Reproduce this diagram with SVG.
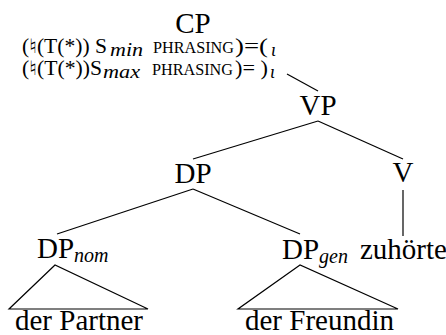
<svg xmlns="http://www.w3.org/2000/svg" width="446" height="335" viewBox="0 0 446 335" font-family="'Liberation Serif', 'Times New Roman', 'DejaVu Serif', serif">
<style>
text { font-family: 'Liberation Serif', 'Times New Roman', 'DejaVu Serif', serif; fill: #000; }
.n { font-size: 29px; text-anchor: middle; }
.nl { font-size: 29px; }
.sub { font-style: italic; font-size: 20px; }
.a { font-size: 20px; }
.ai { font-style: italic; font-size: 18px; }
.sc { font-size: 16px; }
.e { stroke: #000; stroke-width: 1.2; fill: none; }
</style>
<rect width="446" height="335" fill="#fff"/>
<g id="connectors">
<line class="e" x1="287" y1="74" x2="318" y2="91"/>
<line class="e" x1="318" y1="121" x2="193" y2="159"/>
<line class="e" x1="318" y1="121" x2="403" y2="159"/>
<line class="e" x1="193" y1="189" x2="57" y2="234"/>
<line class="e" x1="193" y1="189" x2="300" y2="234"/>
<line class="e" x1="403" y1="190" x2="403" y2="236"/>
<polygon class="e" points="55,265 9,309 148,309"/>
<polygon class="e" points="300,265 238,309 398,309"/>
</g>
<g id="CP">
<text class="n" x="193" y="33">CP</text>
<text class="a" y="53"><tspan x="22" textLength="85" lengthAdjust="spacingAndGlyphs">(♮(T(*)) S</tspan><tspan class="ai" x="110" dy="3" textLength="33" lengthAdjust="spacingAndGlyphs">min</tspan><tspan class="sc" x="153" dy="-3" textLength="81" lengthAdjust="spacingAndGlyphs">PHRASING</tspan><tspan x="235" textLength="33" lengthAdjust="spacingAndGlyphs">)=(</tspan><tspan class="ai" x="271" dy="3">ι</tspan></text>
<text class="a" y="75"><tspan x="22" textLength="80" lengthAdjust="spacingAndGlyphs">(♮(T(*))S</tspan><tspan class="ai" x="103" dy="3" textLength="37" lengthAdjust="spacingAndGlyphs">max</tspan><tspan class="sc" x="152" dy="-3" textLength="81" lengthAdjust="spacingAndGlyphs">PHRASING</tspan><tspan x="235" textLength="33" lengthAdjust="spacingAndGlyphs">)= )</tspan><tspan class="ai" x="270" dy="3">ι</tspan></text>
</g>
<g id="VP"><text class="n" x="318" y="115">VP</text></g>
<g id="DP"><text class="n" x="193" y="183">DP</text></g>
<g id="V"><text class="n" x="403" y="182">V</text></g>
<g id="DPnom"><text class="nl" x="37" y="258">DP<tspan class="sub" dy="4">nom</tspan></text></g>
<g id="DPgen"><text class="nl" x="282" y="259">DP<tspan class="sub" dy="4">gen</tspan></text></g>
<g id="zuhoerte"><text class="nl" x="360" y="259">zuhörte</text></g>
<g id="derPartner"><text class="nl" x="15" y="330">der Partner</text></g>
<g id="derFreundin"><text class="nl" x="245" y="330">der Freundin</text></g>
</svg>
